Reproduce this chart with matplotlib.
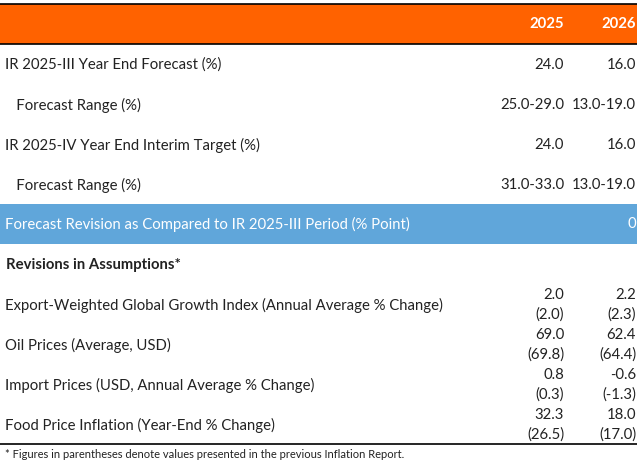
import matplotlib.pyplot as plt
from matplotlib.patches import Rectangle

# tablo verisi
years = ["2025", "2026"]
top_labels = ["IR 2025-III Year End Forecast (%)", "   Forecast Range (%)",
              "IR 2025-IV Year End Interim Target (%)", "   Forecast Range (%)"]
top_2025 = ["24.0", "25.0-29.0", "24.0", "31.0-33.0"]
top_2026 = ["16.0", "13.0-19.0", "16.0", "13.0-19.0"]
revision_label = "Forecast Revision as Compared to IR 2025-III Period (% Point)"
revision_value = "0"
section_title = "Revisions in Assumptions*"
assump_labels = ["Export-Weighted Global Growth Index (Annual Average % Change)",
                 "Oil Prices (Average, USD)",
                 "Import Prices (USD, Annual Average % Change)",
                 "Food Price Inflation (Year-End % Change)"]
assump_2025 = ["2.0", "69.0", "0.8", "32.3"]
assump_2025_prev = ["(2.0)", "(69.8)", "(0.3)", "(26.5)"]
assump_2026 = ["2.2", "62.4", "-0.6", "18.0"]
assump_2026_prev = ["(2.3)", "(64.4)", "(-1.3)", "(17.0)"]
footnote = "* Figures in parentheses denote values presented in the previous Inflation Report."

W, H = 637, 462
orange = "#FF6200"
blue = "#60A6DA"
txt = "#222222"
plt.rcParams['font.family'] = ['Lato', 'DejaVu Sans']

fig = plt.figure(figsize=(W / 100, H / 100), dpi=100)
ax = fig.add_axes([0, 0, 1, 1])
ax.set_xlim(0, W)
ax.set_ylim(H, 0)
ax.axis("off")

fs = 10.7
x_lab = 5
x_c1 = 564
x_c2 = 636

# başlık
ax.add_patch(Rectangle((0, 4), W, 40, color=orange, lw=0))
ax.plot([0, W], [4, 4], color="black", lw=1.2)
ax.plot([0, W], [44, 44], color="black", lw=1.2)
ax.text(x_c1, 24, years[0], ha="right", va="center", color="white", fontsize=fs, fontweight="bold")
ax.text(x_c2, 24, years[1], ha="right", va="center", color="white", fontsize=fs, fontweight="bold")

# üst satırlar
for i, lab in enumerate(top_labels):
    y = 65 + 40 * i
    ax.text(x_lab, y, lab, ha="left", va="center", color=txt, fontsize=fs)
    ax.text(x_c1, y, top_2025[i], ha="right", va="center", color=txt, fontsize=fs)
    ax.text(x_c2, y, top_2026[i], ha="right", va="center", color=txt, fontsize=fs)

# revizyon satırı
ax.add_patch(Rectangle((0, 204), W, 40, color=blue, lw=0))
ax.text(x_lab, 224, revision_label, ha="left", va="center", color="white", fontsize=fs)
ax.text(x_c2, 224, revision_value, ha="right", va="center", color="white", fontsize=fs)

ax.text(x_lab + 1, 265, section_title, ha="left", va="center", color=txt, fontsize=fs, fontweight="bold")

# varsayımlar
for i, lab in enumerate(assump_labels):
    y = 305 + 40 * i
    ax.text(x_lab, y, lab, ha="left", va="center", color=txt, fontsize=fs)
    ax.text(x_c1, y - 10, assump_2025[i], ha="right", va="center", color=txt, fontsize=fs)
    ax.text(x_c1, y + 10, assump_2025_prev[i], ha="right", va="center", color=txt, fontsize=fs)
    ax.text(x_c2, y - 10, assump_2026[i], ha="right", va="center", color=txt, fontsize=fs)
    ax.text(x_c2, y + 10, assump_2026_prev[i], ha="right", va="center", color=txt, fontsize=fs)

ax.plot([0, W], [444, 444], color="black", lw=1.2)
ax.text(x_lab, 455, footnote, ha="left", va="center", color=txt, fontsize=8)

fig.savefig("out.png", dpi=100)
